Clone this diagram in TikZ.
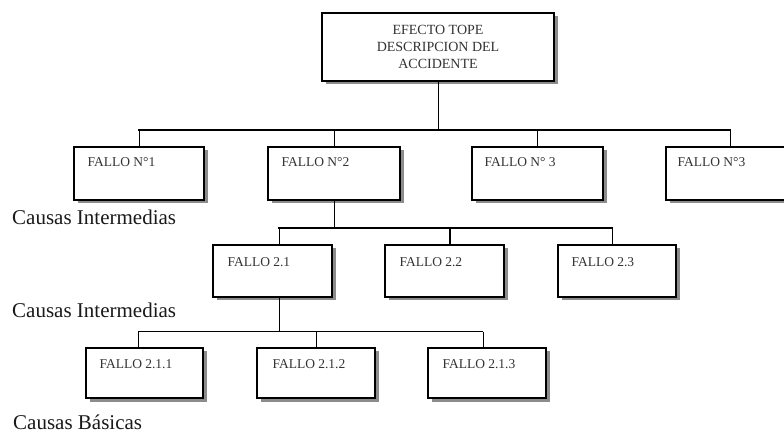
\documentclass[tikz,border=0pt]{standalone}
\usepackage{fontspec}
\setmainfont{Liberation Serif}
\usetikzlibrary{shadows}
\begin{document}
\begin{tikzpicture}[x=1pt,y=-1pt,
  box/.style 2 args={draw=black, line width=1.4pt, fill=white,
    minimum width=#1, minimum height=#2, inner sep=0pt,
    drop shadow={shadow xshift=3.5pt, shadow yshift=-3.5pt, fill=black!45, opacity=1}},
  lbl/.style={anchor=base west, inner sep=0pt, text=black!80,
    font=\fontsize{13.5}{16}\selectfont},
  level/.style={anchor=base west, inner sep=0pt, text=black!90,
    font=\fontsize{21}{24}\selectfont},
  bus/.style={line width=1.7pt, line cap=rect},
  stub/.style={line width=1pt},
  thickstub/.style={line width=1.7pt}
]
\useasboundingbox (0,0) rectangle (784,435);
\clip (0,0) rectangle (784,435);

% top event
\node[box={232pt}{68pt}, align=center, text=black!80,
  font=\fontsize{14}{17}\selectfont] (top) at (438,47)
  {EFECTO TOPE\\DESCRIPCION DEL\\ACCIDENTE};

% first level
\node[box={130pt}{53pt}] (f1) at (139,173.5) {};
\node[box={132pt}{53pt}] (f2) at (334,173.5) {};
\node[box={131pt}{53pt}] (f3) at (537.5,173.5) {};
\node[box={128pt}{53pt}] (f4) at (730,173.5) {};
\node[lbl] (t1) at ([xshift=14pt,yshift=-20pt]f1.north west) {FALLO N°1};
\node[lbl] (t2) at ([xshift=14pt,yshift=-20pt]f2.north west) {FALLO N°2};
\node[lbl] (t3) at ([xshift=13pt,yshift=-20pt]f3.north west) {FALLO N° 3};
\node[lbl] (t4) at ([xshift=12pt,yshift=-20pt]f4.north west) {FALLO N°3};

% second level
\node[box={119pt}{52pt}] (n21) at (272.5,271) {};
\node[box={119pt}{52pt}] (n22) at (444.5,271) {};
\node[box={118pt}{52pt}] (n23) at (617,271) {};
\node[lbl] (t21) at ([xshift=15pt,yshift=-22pt]n21.north west) {FALLO 2.1};
\node[lbl] (t22) at ([xshift=15pt,yshift=-22pt]n22.north west) {FALLO 2.2};
\node[lbl] (t23) at ([xshift=14pt,yshift=-22pt]n23.north west) {FALLO 2.3};

% third level
\node[box={117pt}{50pt}] (n211) at (144.5,373) {};
\node[box={118pt}{50pt}] (n212) at (316,373) {};
\node[box={118pt}{50pt}] (n213) at (487,373) {};
\node[lbl] (t211) at ([xshift=14pt,yshift=-21pt]n211.north west) {FALLO 2.1.1};
\node[lbl] (t212) at ([xshift=16pt,yshift=-21pt]n212.north west) {FALLO 2.1.2};
\node[lbl] (t213) at ([xshift=15pt,yshift=-21pt]n213.north west) {FALLO 2.1.3};

% level captions
\node[level] (c1) at (12,225) {Causas Intermedias};
\node[level] (c2) at (12,318) {Causas Intermedias};
\node[level] (c3) at (13,429) {Causas Básicas};

% connectors: top event to first level
\coordinate (b1l) at (139,130);
\coordinate (b1r) at (730,130);
\draw[stub] (top.south) -- (top.south |- b1l);
\draw[bus] (b1l) -- (b1r);
\draw[stub] (f1.north) -- (f1.north |- b1l);
\draw[stub] (f2.north) -- (f2.north |- b1l);
\draw[stub] (f3.north) -- (f3.north |- b1l);
\draw[stub] (f4.north) -- (f4.north |- b1l);

% connectors: FALLO N°2 to second level
\coordinate (k21) at (279,228);
\coordinate (k22) at (450,228);
\coordinate (k23) at (612,228);
\draw[stub] (f2.south) -- (f2.south |- k21);
\draw[bus] (k21) -- (k23);
\draw[stub] (k21) -- (k21 |- n21.north);
\draw[thickstub] (k22) -- (k22 |- n22.north);
\draw[stub] (k23) -- (k23 |- n23.north);

% connectors: FALLO 2.1 to third level
\coordinate (k211) at (138,332);
\coordinate (k212) at (316,332);
\coordinate (k213) at (483,332);
\draw[stub] (k21 |- n21.south) -- (k21 |- k211);
\draw[stub] (k211) -- (k213);
\draw[stub] (k211) -- (k211 |- n211.north);
\draw[stub] (k212) -- (k212 |- n212.north);
\draw[stub] (k213) -- (k213 |- n213.north);
\end{tikzpicture}
\end{document}
